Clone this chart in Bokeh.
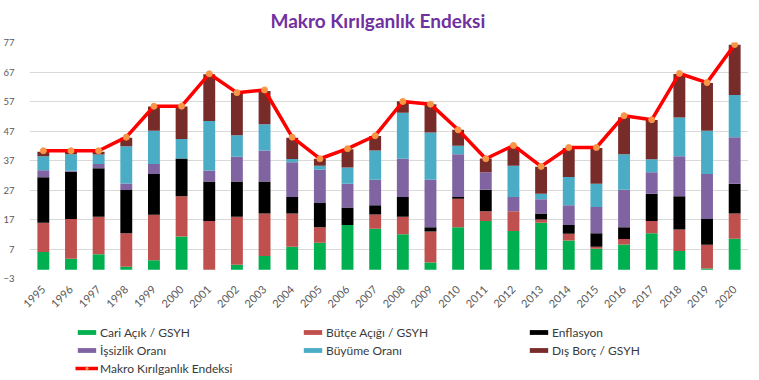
import math
from bokeh.plotting import figure
from bokeh.layouts import column
from bokeh.models import (ColumnDataSource, FixedTicker, Range1d, FactorRange,
                          Legend, LegendItem)
from bokeh.embed import file_html
from bokeh.resources import INLINE

years = ["1995", "1996", "1997", "1998", "1999", "2000", "2001", "2002", "2003",
         "2004", "2005", "2006", "2007", "2008", "2009", "2010", "2011", "2012",
         "2013", "2014", "2015", "2016", "2017", "2018", "2019", "2020"]

cari = [6.0, 3.7, 5.2, 1.0, 3.2, 11.2, 0.0, 1.7, 4.6, 7.8, 9.1, 15.1, 13.9,
        12.0, 2.4, 14.4, 16.5, 13.1, 15.9, 9.9, 7.1, 8.5, 12.3, 6.3, 0.4, 10.5]
butce = [9.9, 13.5, 12.7, 11.3, 15.4, 13.7, 16.5, 16.2, 14.4, 11.2, 5.3, 0.0, 4.8,
         5.9, 10.5, 9.6, 3.3, 6.7, 1.1, 2.3, 0.7, 1.9, 4.2, 7.3, 8.0, 8.5]
enflasyon = [15.4, 16.0, 16.5, 14.7, 13.8, 12.8, 13.4, 12.0, 10.9, 5.6, 8.2, 6.0, 3.1,
             6.7, 1.5, 0.6, 7.3, 0.0, 2.0, 2.9, 4.5, 4.0, 9.2, 11.3, 8.8, 10.1]
issizlik = [2.4, 0.3, 1.4, 2.2, 3.4, 0.0, 3.7, 8.4, 10.5, 11.8, 11.3, 8.0, 8.7,
            13.0, 16.1, 14.5, 5.9, 4.8, 4.9, 6.7, 8.9, 12.7, 7.3, 13.5, 15.2, 15.8]
buyume = [4.7, 5.6, 3.2, 12.6, 11.3, 6.6, 16.8, 7.3, 8.9, 1.1, 1.3, 5.5, 9.9,
          15.6, 16.0, 2.9, 0.0, 10.6, 1.8, 9.6, 7.9, 12.0, 4.4, 13.2, 14.7, 14.3]
dis_borc = [1.6, 1.2, 1.0, 2.9, 8.2, 11.0, 15.8, 14.4, 11.3, 7.2, 2.4, 6.2, 4.9,
            3.9, 9.6, 5.4, 4.7, 6.4, 9.2, 9.8, 12.1, 12.6, 13.3, 14.7, 16.2, 17.0]
endeks = [40.3, 40.3, 40.3, 44.9, 55.4, 55.4, 66.4, 60.0, 60.9, 44.9, 37.6, 41.0,
          45.4, 57.0, 56.1, 47.4, 37.6, 42.1, 35.0, 41.4, 41.4, 52.2, 50.8, 66.5,
          63.4, 76.3]
y_ticks = [-3, 7, 17, 27, 37, 47, 57, 67, 77]

series = ["cari", "butce", "enflasyon", "issizlik", "buyume", "dis_borc"]
labels = ["Cari Açık / GSYH", "Bütçe Açığı / GSYH", "Enflasyon",
          "İşsizlik Oranı", "Büyüme Oranı", "Dış Borç / GSYH"]
index_label = "Makro Kırılganlık Endeksi"
colors = ["#00B050", "#C0504D", "#000000", "#8064A2", "#4BACC6", "#772C2A"]
line_color = "#FF0000"
marker_color = "#F79646"

source = ColumnDataSource(dict(years=years, cari=cari, butce=butce,
                               enflasyon=enflasyon, issizlik=issizlik,
                               buyume=buyume, dis_borc=dis_borc, endeks=endeks))

p = figure(width=759, height=314, output_backend="svg", toolbar_location=None,
           x_range=FactorRange(*years, range_padding=0),
           y_range=Range1d(-3, 77),
           min_border_left=28, min_border_right=11, min_border_top=42,
           min_border_bottom=34)
p.outline_line_color = None

p.title.text = index_label
p.title.align = "left"
p.title.offset = 241
p.title.standoff = 17
p.title.vertical_align = "top"
p.title.text_font = "Lato"
p.title.text_font_size = "19px"
p.title.text_font_style = "bold"
p.title.text_color = "#7030A0"

p.vbar_stack(series, x="years", width=0.43, color=colors, source=source,
             line_width=0)
p.line(x="years", y="endeks", source=source, line_color=line_color,
       line_width=3.5)
p.scatter(x="years", y="endeks", source=source, size=6,
          fill_color=marker_color, line_color=marker_color)

p.yaxis.ticker = FixedTicker(ticks=y_ticks)
p.yaxis.axis_line_color = None
p.yaxis.major_tick_line_color = None
p.yaxis.minor_tick_line_color = None
p.yaxis.major_label_text_font = "Lato"
p.yaxis.major_label_text_font_size = "9.5px"
p.yaxis.major_label_text_color = "#595959"
p.yaxis.major_label_standoff = 9

p.xaxis.axis_line_color = None
p.xaxis.major_tick_line_color = None
p.xaxis.minor_tick_line_color = None
p.xaxis.major_label_orientation = math.pi / 4
p.xaxis.major_label_text_font = "Lato"
p.xaxis.major_label_text_font_size = "11px"
p.xaxis.major_label_text_color = "#595959"
p.xaxis.major_label_standoff = 3

p.xgrid.grid_line_color = None
p.ygrid.grid_line_color = "#D9D9D9"
p.ygrid.grid_line_width = 1

# legend panel: a second figure whose view shows no data (only the legend),
# so that the legend is not clipped by the main plot frame
lg = figure(width=759, height=66, output_backend="svg", toolbar_location=None,
            x_range=FactorRange(*years), y_range=Range1d(1000, 1001),
            x_axis_location=None, y_axis_location=None, min_border=0)
lg.outline_line_color = None
lg.grid.visible = False
items = []
for col, lab, c in zip(series, labels, colors):
    r = lg.vbar(x="years", top=col, width=0.43, color=c, line_width=0,
                source=source)
    items.append(LegendItem(label=lab, renderers=[r]))
lr = lg.line(x="years", y="endeks", line_color=line_color, line_width=3.5,
             source=source)
ls = lg.scatter(x="years", y="endeks", size=6, fill_color=marker_color,
                line_color=marker_color, source=source)
items.append(LegendItem(label=index_label, renderers=[lr, ls]))
legend = Legend(items=items, location=(46, 3), orientation="horizontal",
                ncols=3, glyph_width=23, glyph_height=6, label_standoff=2,
                label_width=201, label_height=18, spacing=0, padding=0,
                margin=0, border_line_alpha=0, background_fill_alpha=0,
                label_text_font="Lato", label_text_font_size="12px",
                label_text_color="#3A3A3A")
lg.add_layout(legend, "center")

layout = column(p, lg, spacing=0)
open("out.html", "w").write(file_html(layout, INLINE))
